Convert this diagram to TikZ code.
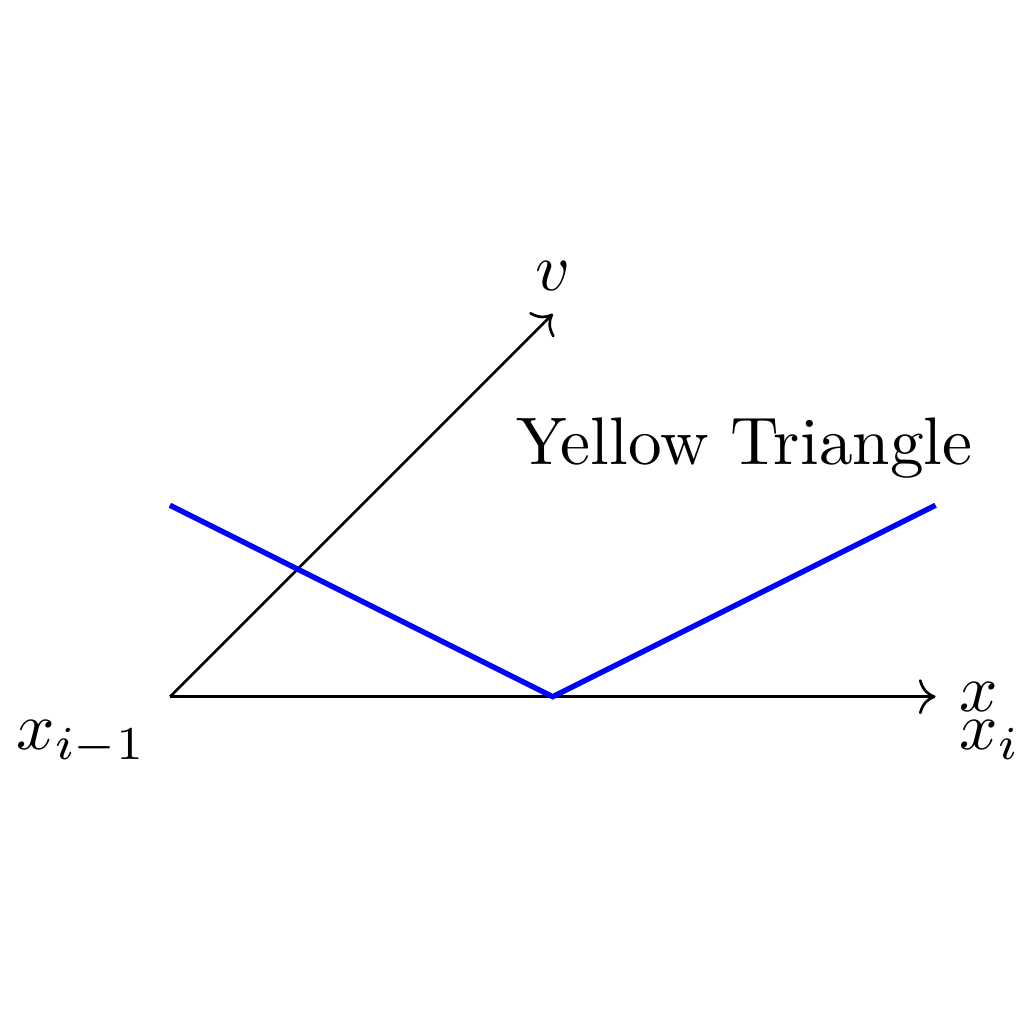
\documentclass[tikz,border=0pt]{standalone}
\usepackage{amsmath,amssymb}
\usepackage{xcolor}
\usepackage{tikz}
\usetikzlibrary{calc,arrows.meta,positioning}

\begin{document}
\begin{tikzpicture}[x=2cm,y=2cm]
\useasboundingbox (-0.444,-0.855) rectangle (2.23,1.82);
\coordinate (O) at (0,0);
\coordinate (xend) at (2,0);
\coordinate (vend) at (1,1);
\coordinate (hatL) at (0,0.5);
\coordinate (hatM) at (1,0);
\coordinate (hatR) at (2,0.5);
\draw[->] (O)--(xend);
\draw[->] (O)--(vend);
\node[right] (xlab) at (xend) {$x$};
\node[above] (vlab) at (vend) {$v$};
\node[below left] (xim) at (O) {$x_{i-1}$};
\node[below right] (xi) at (xend) {$x_i$};
\draw[blue, thick] (hatL)--(hatM)--(hatR);
\node (title) at (1.5,0.65) {Yellow Triangle};
\end{tikzpicture}
\end{document}
